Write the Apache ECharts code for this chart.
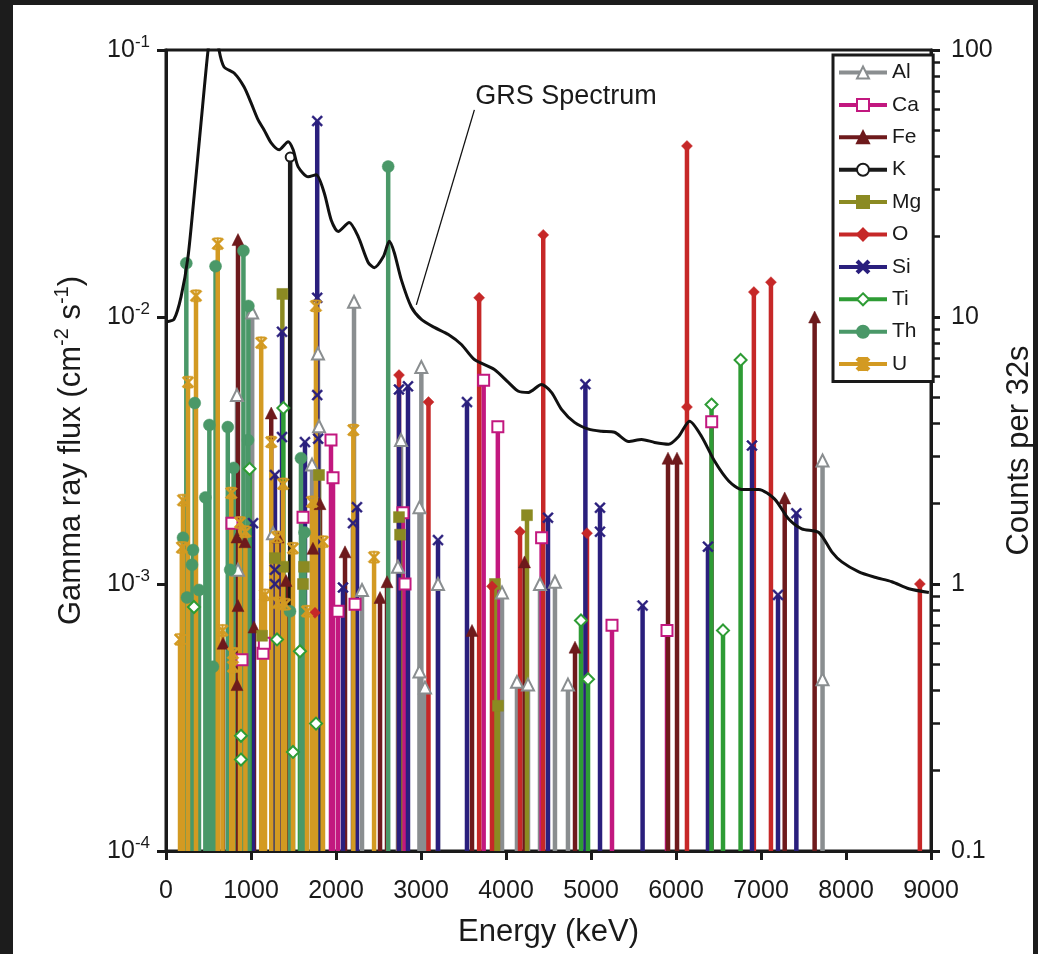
<!DOCTYPE html>
<html><head><meta charset="utf-8">
<script src="https://cdn.jsdelivr.net/npm/echarts@6/dist/echarts.min.js"></script>
<style>
html,body{margin:0;padding:0;background:#1c1c1c;width:1038px;height:954px;overflow:hidden}
#chart{position:absolute;left:13px;top:5px;width:1020px;height:949px;background:#fff}
</style></head><body><div id="chart"></div>
<script>
// ---- data (energy keV, flux cm^-2 s^-1) ----
const xTicks = [0,1000,2000,3000,4000,5000,6000,7000,8000,9000];
const AL = [[835,5.1e-3],[847,1.13e-3],[1014,1.04e-2],[1259,1.55e-3],[1718,2.8e-3],[1788,7.3e-3],[1800,3.9e-3],[2212,1.14e-2],[2306,0.95e-3],[2729,1.16e-3],[2765,3.46e-3],[2982,1.94e-3],[2982,0.47e-3],[3004,6.5e-3],[3047,0.41e-3],[3200,1.0e-3],[3953,0.93e-3],[4129,0.43e-3],[4259,0.42e-3],[4400,1.0e-3],[4576,1.02e-3],[4729,0.42e-3],[7724,2.9e-3],[7724,0.44e-3]];
const CA = [[776,1.69e-3],[894,0.52e-3],[1141,0.55e-3],[1157,0.6e-3],[1612,1.78e-3],[1941,3.46e-3],[1965,2.5e-3],[2024,0.79e-3],[2224,0.84e-3],[2788,1.85e-3],[2812,1.0e-3],[3737,5.8e-3],[3904,3.88e-3],[4419,1.49e-3],[5247,0.70e-3],[5894,0.67e-3],[6420,4.05e-3]];
const FE = [[671,0.6e-3],[835,1.5e-3],[835,0.42e-3],[847,1.95e-2],[847,0.83e-3],[929,1.44e-3],[1035,0.69e-3],[1238,4.37e-3],[1318,1.5e-3],[1412,1.03e-3],[1729,1.36e-3],[1812,2.0e-3],[2106,1.32e-3],[2518,0.89e-3],[2600,1.02e-3],[3600,0.67e-3],[4218,1.21e-3],[4812,0.58e-3],[5906,2.96e-3],[6012,2.96e-3],[7279,2.1e-3],[7631,1.0e-2]];
const K = [[1461,3.97e-2]];
const MG = [[1129,0.64e-3],[1282,1.25e-3],[1369,1.22e-2],[1376,1.16e-3],[1612,1.0e-3],[1624,1.16e-3],[1800,2.56e-3],[2741,1.78e-3],[2754,1.53e-3],[3870,1.0e-3],[3906,0.35e-3],[4247,1.81e-3]];
const O = [[1753,0.78e-3],[2741,6.06e-3],[3088,4.8e-3],[3684,1.18e-2],[3835,0.98e-3],[4165,1.57e-3],[4438,2.03e-2],[4953,1.55e-3],[6129,4.37e-2],[6129,4.6e-3],[6916,1.24e-2],[7117,1.35e-2],[8869,1.0e-3]];
const SI = [[1024,1.69e-3],[1282,2.56e-3],[1282,1.13e-3],[1282,1.0e-3],[1365,8.8e-3],[1365,3.55e-3],[1635,3.4e-3],[1779,5.42e-2],[1779,1.18e-2],[1779,5.1e-3],[1790,3.5e-3],[2082,0.97e-3],[2200,1.69e-3],[2247,1.94e-3],[2741,5.35e-3],[2847,5.5e-3],[3200,1.46e-3],[3541,4.8e-3],[4494,1.77e-3],[4934,5.6e-3],[5106,1.93e-3],[5106,1.57e-3],[5607,0.83e-3],[6376,1.38e-3],[6894,3.3e-3],[7200,0.91e-3],[7416,1.84e-3]];
const TI = [[329,0.82e-3],[882,0.27e-3],[882,0.22e-3],[983,2.7e-3],[1306,0.62e-3],[1381,4.56e-3],[1494,0.235e-3],[1576,0.56e-3],[1765,0.30e-3],[4882,0.73e-3],[4965,0.44e-3],[6418,4.7e-3],[6553,0.67e-3],[6760,6.9e-3]];
const TH = [[200,1.49e-3],[239,1.59e-2],[247,0.89e-3],[306,1.18e-3],[318,1.34e-3],[338,4.76e-3],[388,0.95e-3],[463,2.11e-3],[510,3.94e-3],[553,0.49e-3],[583,1.55e-2],[727,3.87e-3],[755,1.13e-3],[795,2.72e-3],[911,1.77e-2],[965,3.46e-3],[969,1.1e-2],[1459,0.79e-3],[1588,2.96e-3],[1630,1.56e-3],[2614,3.66e-2]];
const U = [[165,0.62e-3],[186,1.37e-3],[200,2.06e-3],[259,5.7e-3],[353,1.2e-2],[609,1.88e-2],[665,0.67e-3],[768,2.19e-3],[788,0.55e-3],[788,0.49e-3],[871,1.7e-3],[934,1.57e-3],[1120,8.0e-3],[1165,0.91e-3],[1238,3.4e-3],[1306,1.5e-3],[1318,0.85e-3],[1377,2.37e-3],[1401,0.84e-3],[1494,1.36e-3],[1659,0.79e-3],[1718,2.03e-3],[1764,1.1e-2],[1847,1.44e-3],[2204,3.77e-3],[2448,1.26e-3]];
// GRS spectrum (counts per 32 s)
const grsEnergy = [12,94,177,259,330,412,495,560,624,683,801,919,1001,1084,1154,1237,1331,1437,1496,1555,1673,1767,1861,1943,2026,2155,2261,2379,2450,2556,2627,2686,2768,2886,3004,3157,3322,3475,3628,3863,4028,4146,4264,4417,4535,4653,4806,4971,5124,5277,5442,5595,5748,5913,6031,6160,6301,6455,6620,6773,6973,7161,7326,7479,7680,7833,7951,8151,8339,8539,8740,8975];
const grsCounts = [9.6,9.8,11.9,16.8,28.2,53.3,100,140,100,86.4,82,72.7,63.4,54.7,50.2,44.9,42.3,45.3,42.3,36.5,33.5,34.1,29.2,23.1,20.9,22.6,20.0,16.0,15.3,16.8,19.2,17.4,13.8,10.9,9.79,9.14,8.6,7.89,6.93,6.36,5.69,5.27,5.22,5.59,5.22,4.51,4.03,3.8,3.73,3.7,3.42,3.48,3.39,3.34,3.57,4.07,3.57,2.88,2.43,2.26,2.26,2.08,1.75,1.61,1.56,1.32,1.21,1.11,1.06,1.02,0.96,0.93];
const annotStart = [3628, 59.7], annotEnd = [2945, 11.1];

// ---- rendering ----
const BASE = 1e-4;
const FONT = '"Liberation Sans", Arial, Helvetica, sans-serif';
const INK = '#1a1a1a';
const X_PATH = 'path://M0,1.3L1.3,0L5,3.7L8.7,0L10,1.3L6.3,5L10,8.7L8.7,10L5,6.3L1.3,10L0,8.7L3.7,5Z';
const STAR_PATH = 'path://M0,1.3L1.3,0L5,3.7L8.7,0L10,1.3L6.3,5L10,8.7L8.7,10L5,6.3L1.3,10L0,8.7L3.7,5Z M4.4,0H5.6V10H4.4Z M2,0H8V1.1H2Z M2,8.9H8V10H2Z';

const elements = [
  {name:'Al', data:AL, color:'#8a8e90', symbol:'emptyTriangle', size:12},
  {name:'Ca', data:CA, color:'#c2187f', symbol:'emptyRect', size:11},
  {name:'Fe', data:FE, color:'#6e1a1c', symbol:'triangle', size:12},
  {name:'K',  data:K,  color:'#1a1a1a', symbol:'emptyCircle', size:9},
  {name:'Mg', data:MG, color:'#8b8a22', symbol:'rect', size:11},
  {name:'O',  data:O,  color:'#c62828', symbol:'diamond', size:11},
  {name:'Si', data:SI, color:'#2a1f7d', symbol:X_PATH, size:11},
  {name:'Ti', data:TI, color:'#2e9c35', symbol:'emptyDiamond', size:12},
  {name:'Th', data:TH, color:'#4a9868', symbol:'circle', size:12},
  {name:'U',  data:U,  color:'#d39a22', symbol:STAR_PATH, size:12}
];

function stems(pairs){
  const out = [];
  pairs.forEach(p => {
    out.push({value:[p[0], BASE], symbol:'none'});
    out.push({value:[p[0], p[1]]});
    out.push({value:[p[0], '-'], symbol:'none'});
  });
  return out;
}

const series = elements.map(el => ({
  name: el.name,
  type: 'line',
  yAxisIndex: 0,
  data: stems(el.data),
  connectNulls: false,
  symbol: el.symbol,
  symbolSize: el.size,
  showAllSymbol: true,
  symbolKeepAspect: true,
  lineStyle: {color: el.color, width: 4.5},
  itemStyle: {color: el.color, borderColor: el.color, borderWidth: el.symbol.indexOf('empty') === 0 ? 2 : 0.5},
  emphasis: {disabled: true},
  z: 2
}));

series.push({
  name: 'GRS Spectrum',
  type: 'line',
  yAxisIndex: 1,
  data: grsEnergy.map((e, i) => [e, grsCounts[i]]),
  showSymbol: false,
  smooth: 0.25,
  lineStyle: {color: '#111', width: 3},
  emphasis: {disabled: true},
  z: 5,
  markLine: {
    silent: true,
    symbol: ['none', 'none'],
    label: {show: false},
    lineStyle: {color: '#111', width: 1.3, type: 'solid'},
    data: [[{coord: annotStart}, {coord: annotEnd}]]
  }
});

const chart = echarts.init(document.getElementById('chart'), null, {renderer: 'canvas'});
chart.setOption({
  animation: false,
  backgroundColor: '#fff',
  textStyle: {fontFamily: FONT},
  grid: {left: 153, right: 102, top: 45, bottom: 103, containLabel: false, outerBoundsMode: 'none',
    show: true, borderColor: INK, borderWidth: 3, backgroundColor: 'transparent'},
  legend: {
    data: elements.map(e => e.name),
    orient: 'vertical', left: 820, top: 50,
    itemWidth: 48, itemHeight: 15, itemGap: 11.4,
    padding: [7, 12, 7, 4],
    borderColor: INK, borderWidth: 3, backgroundColor: '#fff',
    selectedMode: false,
    lineStyle: {width: 4},
    textStyle: {fontSize: 21, lineHeight: 20, color: INK, fontFamily: FONT}
  },
  graphic: [{
    type: 'text', x: 553, y: 92, z: 10,
    style: {text: 'GRS Spectrum', fontSize: 27, fontFamily: FONT, fill: INK, align: 'center', verticalAlign: 'middle'}
  }],
  xAxis: {
    type: 'value', min: 0, max: 9000, interval: 1000,
    axisLine: {show: true, onZero: false, lineStyle: {color: INK, width: 3}},
    axisTick: {show: true, length: 9, lineStyle: {color: INK, width: 3}},
    splitLine: {show: false},
    axisLabel: {fontSize: 25, color: INK, margin: 28, fontFamily: FONT,
      formatter: v => xTicks.indexOf(v) >= 0 ? String(v) : ''},
    name: 'Energy (keV)', nameLocation: 'middle', nameGap: 66,
    nameTextStyle: {fontSize: 31, color: INK, fontFamily: FONT}
  },
  yAxis: [{
    type: 'log', logBase: 10, min: 1e-4, max: 1e-1, position: 'left',
    axisLine: {show: true, onZero: false, lineStyle: {color: INK, width: 3}},
    axisTick: {show: true, length: 9, lineStyle: {color: INK, width: 3}},
    splitLine: {show: false},
    axisLabel: {
      margin: 16, color: INK,
      formatter: v => '{b|10}{s|' + Math.round(Math.log10(v)) + '}',
      rich: {
        b: {fontSize: 25, lineHeight: 32, color: INK, fontFamily: FONT},
        s: {fontSize: 17, lineHeight: 16, verticalAlign: 'top', color: INK, fontFamily: FONT}
      }
    },
    name: '{a|Gamma ray flux (cm}{s|-2}{a| s}{s|-1}{a|)}',
    nameLocation: 'middle', nameGap: 76,
    nameTextStyle: {
      rich: {
        a: {fontSize: 31, lineHeight: 38, color: INK, fontFamily: FONT},
        s: {fontSize: 20, lineHeight: 20, verticalAlign: 'top', color: INK, fontFamily: FONT}
      }
    }
  }, {
    type: 'log', logBase: 10, min: 0.1, max: 100, position: 'right',
    axisLine: {show: true, onZero: false, lineStyle: {color: INK, width: 3}},
    axisTick: {show: true, length: 9, lineStyle: {color: INK, width: 3}},
    minorTick: {show: true, splitNumber: 9, length: 9, lineStyle: {color: INK, width: 2.5}},
    splitLine: {show: false},
    minorSplitLine: {show: false},
    axisLabel: {fontSize: 25, color: INK, margin: 20, fontFamily: FONT,
      formatter: v => v >= 1 ? String(Math.round(v)) : String(+v.toPrecision(1))},
    name: 'Counts per 32s', nameLocation: 'middle', nameGap: 72,
    nameTextStyle: {fontSize: 31, color: INK, fontFamily: FONT}
  }],
  series: series
});
</script></body></html>
